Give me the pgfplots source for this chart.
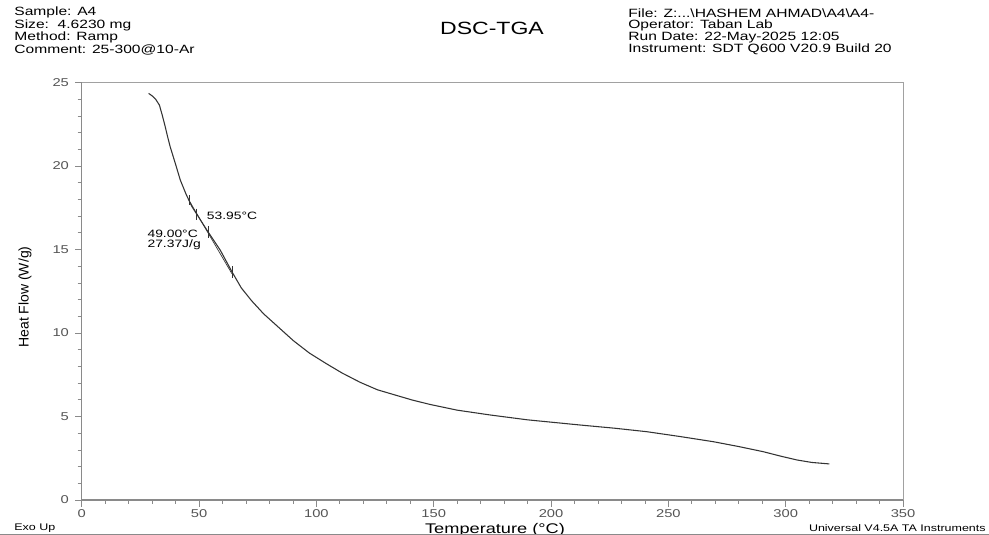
\documentclass[border=0pt]{standalone}
\usepackage{fontspec}
\setmainfont{Liberation Sans}
\usepackage{pgfplots}
\pgfplotsset{compat=1.18}

\definecolor{curve}{HTML}{333333}
\definecolor{framegray}{HTML}{8A8A8A}
\definecolor{labelgray}{HTML}{555555}

% DSC heat flow signal (W/g) versus temperature (deg C)
\pgfplotstableread{
T      HF
28.5   24.35
30.0   24.20
31.5   24.00
33.1   23.65
34.3   23.05
35.5   22.40
36.6   21.75
37.7   21.15
40.0   20.10
42.0   19.16
44.5   18.30
47.0   17.56
50.0   16.90
53.3   16.17
56.0   15.60
59.0   14.97
64.0   13.67
68.0   12.70
72.4   11.93
77.5   11.15
83.1   10.44
90.2   9.54
97.0   8.80
104.4  8.15
111.0  7.60
118.6  7.05
126.0  6.60
134.2  6.26
141.0  5.98
148.5  5.72
160.0  5.38
174.1  5.09
190.0  4.80
212.4  4.49
227.0  4.30
240.8  4.09
255.0  3.80
269.2  3.49
280.0  3.20
290.5  2.89
298.0  2.62
304.7  2.40
311.0  2.25
318.6  2.16
}\dscdata

\begin{document}
\begin{tikzpicture}[wide/.style={xscale=1.3}]
\clip (0,0) rectangle (741.75pt,401.25pt);
\fill[white] (0,0) rectangle (741.75pt,401.25pt);

% run information header
\begin{scope}[every node/.style={anchor=west, wide, inner sep=0pt, font=\fontsize{9}{9}\selectfont}]
\node at (10.5pt,391.6pt) {Sample: A4};
\node at (10.5pt,382.5pt) {Size:\ \ 4.6230 mg};
\node at (10.5pt,373.3pt) {Method: Ramp};
\node at (10.5pt,364.1pt) {Comment: 25-300@10-Ar};
\node at (471pt,391.6pt) {File: Z:...\textbackslash HASHEM AHMAD\textbackslash A4\textbackslash A4-};
\node at (471pt,382.5pt) {Operator: Taban Lab};
\node at (471pt,373.3pt) {Run Date: 22-May-2025 12:05};
\node at (471pt,364.1pt) {Instrument: SDT Q600 V20.9 Build 20};
\end{scope}
\node[wide, inner sep=0pt, font=\fontsize{13.3}{14}\selectfont] at (369pt,380pt) {DSC-TGA};

% footer
\node[anchor=west, wide, inner sep=0pt, font=\fontsize{7.2}{8}\selectfont] at (10.5pt,5.25pt) {Exo Up};
\node[anchor=east, wide, inner sep=0pt, font=\fontsize{7.2}{8}\selectfont] at (739.5pt,5.25pt) {Universal V4.5A TA Instruments};
\node[anchor=base, wide, inner sep=0pt, font=\fontsize{10.5}{12}\selectfont] at (371.25pt,0.9pt) {Temperature (°C)};
\node[rotate=90, inner sep=0pt, font=\fontsize{10.5}{12}\selectfont] at (18.75pt,178.5pt) {Heat Flow (W/g)};

\begin{axis}[
  at={(61.3pt,26.25pt)}, anchor=south west,
  scale only axis, width=616pt, height=313.1pt,
  xmin=0, xmax=350, ymin=0, ymax=25,
  xtick={0,50,...,350}, ytick={0,5,...,25},
  minor x tick num=4, minor y tick num=4,
  tick pos=left, tick align=outside,
  major tick length=5pt, minor tick length=3pt,
  every tick/.style={framegray, line width=0.6pt},
  axis line style={framegray, line width=0.8pt},
  /pgf/number format/assume math mode=true,
  tick label style={labelgray, wide, font=\fontsize{8.5}{10}\selectfont},
  xticklabel style={yshift=1pt},
  clip=false,
]
% top and right edges of the plot frame
\draw[framegray!80, line width=0.8pt] (rel axis cs:0,1) -- (rel axis cs:1,1) -- (rel axis cs:1,0);

\addplot[curve, line width=0.8pt] table[x=T, y=HF] {\dscdata};

% integration baseline and event markers
\addplot[curve, line width=0.5pt] coordinates {(45.7,17.95) (64.0,13.55)};
\addplot[curve, line width=0.6pt] coordinates {(45.7,18.25) (45.7,17.65)};
\addplot[curve, line width=0.6pt] coordinates {(49.0,17.45) (49.0,16.75)};
\addplot[curve, line width=0.6pt] coordinates {(53.95,16.40) (53.95,15.70)};
\addplot[curve, line width=0.6pt] coordinates {(64.0,14.00) (64.0,13.30)};

\node[anchor=west, wide, inner sep=0pt, font=\fontsize{8}{9}\selectfont] at (axis cs:53.2,17.0) {53.95°C};
\node[anchor=west, wide, inner sep=0pt, font=\fontsize{8}{9}\selectfont] at (axis cs:27.9,15.95) {49.00°C};
\node[anchor=west, wide, inner sep=0pt, font=\fontsize{8}{9}\selectfont] at (axis cs:27.9,15.27) {27.37J/g};
\end{axis}

\draw[framegray, line width=0.8pt] (0,0.4pt) -- (741.75pt,0.4pt);
\end{tikzpicture}
\end{document}
